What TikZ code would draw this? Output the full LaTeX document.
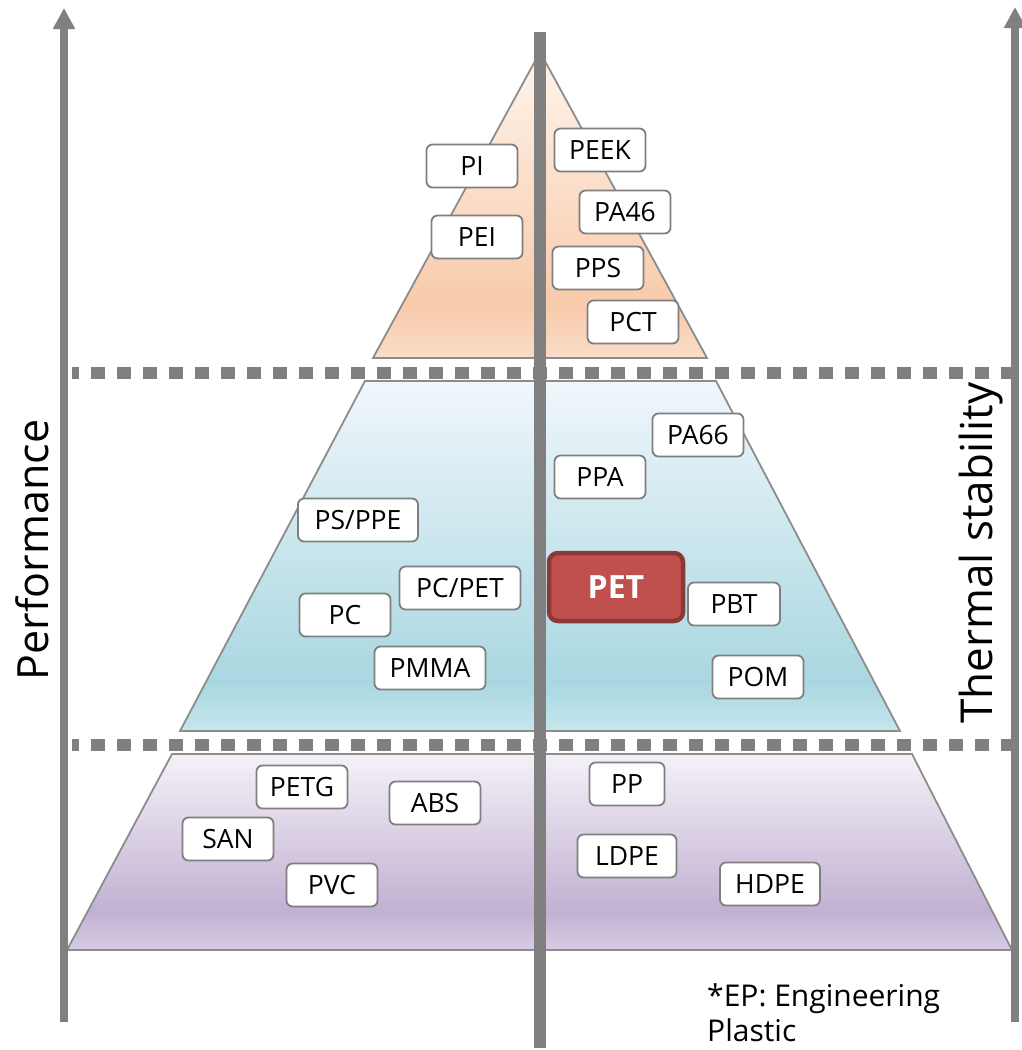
\documentclass[tikz,border=0pt]{standalone}
\usepackage{fontspec}
\setmainfont{Open Sans}
\usetikzlibrary{arrows.meta}
\definecolor{axgray}{HTML}{808080}
\definecolor{edgegray}{HTML}{8C8C8C}
\definecolor{boxgray}{HTML}{7F7F7F}
\definecolor{petred}{HTML}{C0504D}
\definecolor{petedge}{HTML}{8C3836}
\definecolor{pchT}{HTML}{FEF4EC}
\definecolor{pchM}{HTML}{F8CBAB}
\definecolor{pchB}{HTML}{FADCC7}
\definecolor{bluT}{HTML}{F0F7FB}
\definecolor{bluM}{HTML}{A9D7E1}
\definecolor{bluB}{HTML}{C6E6EC}
\definecolor{lilT}{HTML}{F5F1F8}
\definecolor{lilM}{HTML}{C1B1D2}
\definecolor{lilB}{HTML}{D6CCE3}
\pgfdeclareverticalshading{peachband}{100bp}{color(0bp)=(pchB); color(25bp)=(pchB); color(34bp)=(pchM); color(75bp)=(pchT); color(100bp)=(pchT)}
\pgfdeclareverticalshading{blueband}{100bp}{color(0bp)=(bluB); color(25bp)=(bluB); color(32bp)=(bluM); color(75bp)=(bluT); color(100bp)=(bluT)}
\pgfdeclareverticalshading{lilacband}{100bp}{color(0bp)=(lilB); color(25bp)=(lilB); color(35bp)=(lilM); color(75bp)=(lilT); color(100bp)=(lilT)}
\tikzset{
  plbox/.style={draw=boxgray, line width=1.8pt, fill=white, rounded corners=6pt,
    minimum width=91pt, minimum height=43pt, inner sep=0pt, font=\fontsize{26.5}{31}\selectfont},
  tier/.style={draw=edgegray, line width=1.8pt},
  sep/.style={axgray, line width=12pt, dash pattern=on 14pt off 12pt, dash phase=7pt}
}

\begin{document}
\begin{tikzpicture}[x=1pt, y=-1pt]
\useasboundingbox (0,0) rectangle (1022,1050);
% three tiers
\shade[tier, shading=peachband] (540,52) -- (707,358) -- (373,358) -- cycle;
\shade[tier, shading=blueband] (365,381) -- (716,381) -- (900,731) -- (180,731) -- cycle;
\shade[tier, shading=lilacband] (172,754) -- (912,754) -- (1012,950) -- (67,950) -- cycle;
\draw[sep] (72,373) -- (1018,373);
\draw[sep] (72,745) -- (1018,745);
% axes
\draw[axgray, line width=12pt] (540,32) -- (540,1048);
\draw[axgray, line width=8pt, -{Triangle[width=21pt,length=21pt]}] (64,1022) -- (64,8);
\draw[axgray, line width=8pt, -{Triangle[width=21pt,length=21pt]}] (1015,1022) -- (1015,7);
\node[rotate=90, font=\fontsize{43}{50}\selectfont] (perf) at (32,550) {Performance};
\node[rotate=90, font=\fontsize{44}{50}\selectfont] (therm) at (981,553) {Thermal stability};
% polymers
\foreach \nm/\x/\y/\w in {PI/472/166/91, PEI/477/237/91, PEEK/600/150/91, PA46/625/212/91,
  PPS/598/268/91, PCT/633/322/91, PA66/698/435/91, PPA/600/477/91, PC/345/615/91,
  PMMA/430/668/111, PBT/734/604/92, POM/758/677/91, PETG/302/787/91, ABS/435/803/91,
  SAN/228/839/91, PVC/332/885/91, PP/627/784/75, LDPE/627/856/99, HDPE/770/884/100}
  \node[plbox, minimum width=\w pt] (\nm) at (\x,\y) {\nm};
\node[plbox, minimum width=120pt] (psppe) at (358,520) {PS/PPE};
\node[plbox, minimum width=121pt] (pcpet) at (460,588) {PC/PET};
\node[plbox, draw=petedge, line width=4.5pt, fill=petred, text=white, minimum width=134pt,
  minimum height=68pt, rounded corners=9pt, font=\fontsize{32}{38}\selectfont\bfseries] (PET) at (616,587) {PET};
\node[anchor=north west, inner sep=0pt, align=left, font=\fontsize{30}{35}\selectfont] (epnote) at (707,983)
  {*EP: Engineering\\Plastic};
\end{tikzpicture}
\end{document}
